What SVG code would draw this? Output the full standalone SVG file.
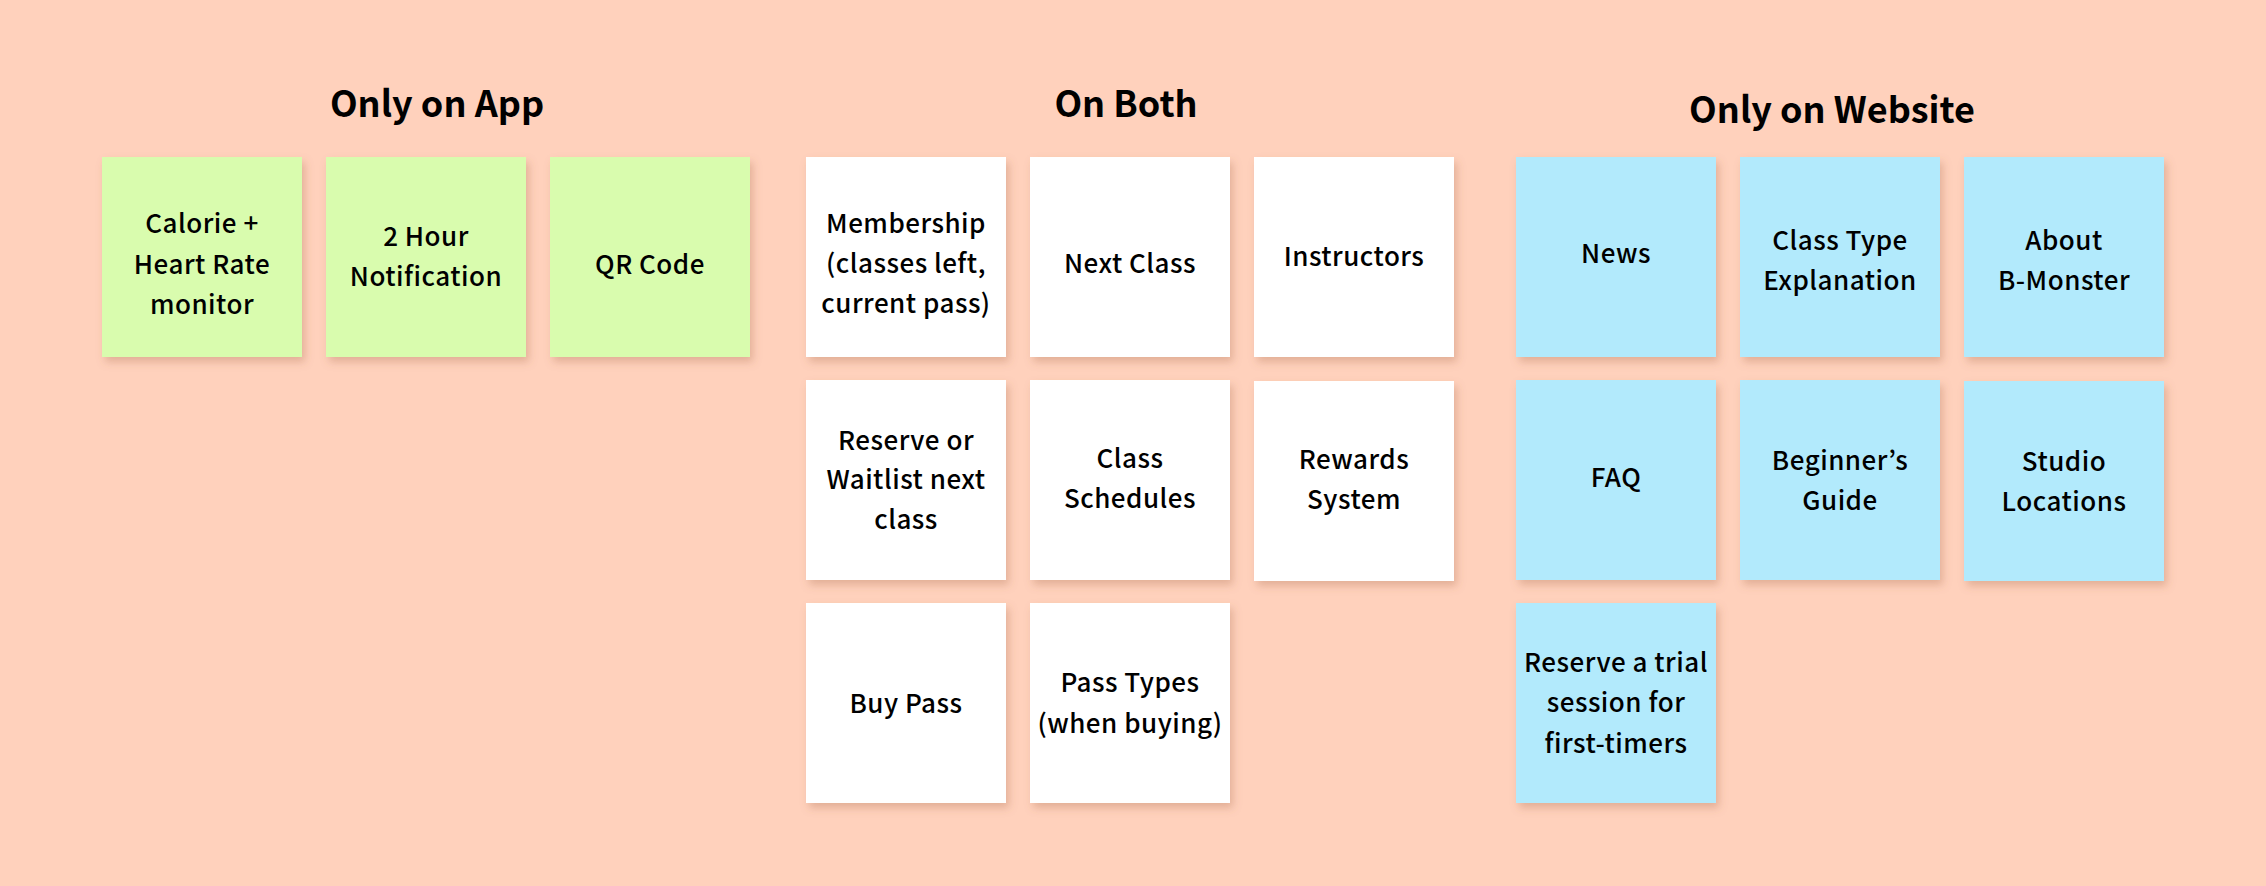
<svg xmlns="http://www.w3.org/2000/svg" width="2266" height="886" viewBox="0 0 2266 886">
<defs>
<filter id="sh" x="-20%" y="-20%" width="150%" height="150%">
<feDropShadow dx="3" dy="5" stdDeviation="4" flood-color="#a06040" flood-opacity="0.3"/>
</filter>
<style>
.title{font-family:"Noto Sans CJK JP","Source Sans Pro","Liberation Sans",sans-serif;font-weight:700;font-size:36px;fill:#000;text-anchor:middle}
.t{font-family:"Noto Sans CJK JP","Source Sans Pro","Liberation Sans",sans-serif;font-weight:500;font-size:26px;fill:#000;text-anchor:middle;letter-spacing:0.5px}
.app{fill:#D9FCAE;filter:url(#sh)}
.both{fill:#FFFFFF;filter:url(#sh)}
.web{fill:#B2EAFC;filter:url(#sh)}
</style>
</defs>
<rect width="2266" height="886" fill="#FFD1BC"/>
<g id="titles">
<text class="title" x="437" y="117">Only on App</text>
<text class="title" x="1126" y="117">On Both</text>
<text class="title" x="1832" y="123">Only on Website</text>
</g>
<g id="app-calorie"><rect class="app" x="102" y="157" width="200" height="200"/>
<text class="t" x="202" y="233">Calorie +</text><text class="t" x="202" y="274">Heart Rate</text><text class="t" x="202" y="314">monitor</text></g>
<g id="app-notification"><rect class="app" x="326" y="157" width="200" height="200"/>
<text class="t" x="426" y="246">2 Hour</text><text class="t" x="426" y="286">Notification</text></g>
<g id="app-qr"><rect class="app" x="550" y="157" width="200" height="200"/>
<text class="t" x="650" y="274">QR Code</text></g>

<g id="both-membership"><rect class="both" x="806" y="157" width="200" height="200"/>
<text class="t" x="906" y="233">Membership</text><text class="t" x="906" y="273">(classes left,</text><text class="t" x="906" y="313">current pass)</text></g>
<g id="both-next"><rect class="both" x="1030" y="157" width="200" height="200"/>
<text class="t" x="1130" y="273">Next Class</text></g>
<g id="both-instructors"><rect class="both" x="1254" y="157" width="200" height="200"/>
<text class="t" x="1354" y="266">Instructors</text></g>
<g id="both-reserve"><rect class="both" x="806" y="380" width="200" height="200"/>
<text class="t" x="906" y="450">Reserve or</text><text class="t" x="906" y="489">Waitlist next</text><text class="t" x="906" y="529">class</text></g>
<g id="both-schedules"><rect class="both" x="1030" y="380" width="200" height="200"/>
<text class="t" x="1130" y="468">Class</text><text class="t" x="1130" y="508">Schedules</text></g>
<g id="both-rewards"><rect class="both" x="1254" y="381" width="200" height="200"/>
<text class="t" x="1354" y="469">Rewards</text><text class="t" x="1354" y="509">System</text></g>
<g id="both-buy"><rect class="both" x="806" y="603" width="200" height="200"/>
<text class="t" x="906" y="713">Buy Pass</text></g>
<g id="both-passtypes"><rect class="both" x="1030" y="603" width="200" height="200"/>
<text class="t" x="1130" y="692">Pass Types</text><text class="t" x="1130" y="733">(when buying)</text></g>

<g id="web-news"><rect class="web" x="1516" y="157" width="200" height="200"/>
<text class="t" x="1616" y="263">News</text></g>
<g id="web-classtype"><rect class="web" x="1740" y="157" width="200" height="200"/>
<text class="t" x="1840" y="250">Class Type</text><text class="t" x="1840" y="290">Explanation</text></g>
<g id="web-about"><rect class="web" x="1964" y="157" width="200" height="200"/>
<text class="t" x="2064" y="250">About</text><text class="t" x="2064" y="290">B-Monster</text></g>
<g id="web-faq"><rect class="web" x="1516" y="380" width="200" height="200"/>
<text class="t" x="1616" y="487">FAQ</text></g>
<g id="web-beginner"><rect class="web" x="1740" y="380" width="200" height="200"/>
<text class="t" x="1840" y="470">Beginner’s</text><text class="t" x="1840" y="510">Guide</text></g>
<g id="web-studio"><rect class="web" x="1964" y="381" width="200" height="200"/>
<text class="t" x="2064" y="471">Studio</text><text class="t" x="2064" y="511">Locations</text></g>
<g id="web-trial"><rect class="web" x="1516" y="603" width="200" height="200"/>
<text class="t" x="1616" y="672">Reserve a trial</text><text class="t" x="1616" y="712">session for</text><text class="t" x="1616" y="753">first-timers</text></g>
<g id="connectors"/>
</svg>
